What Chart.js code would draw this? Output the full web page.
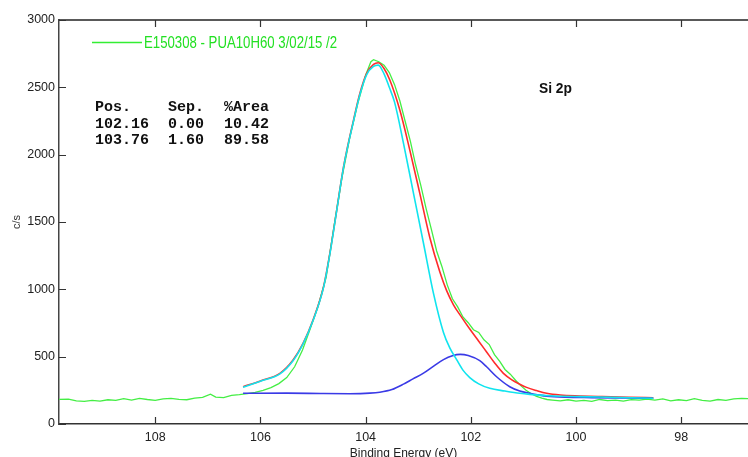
<!DOCTYPE html>
<html>
<head>
<meta charset="utf-8">
<script src="https://cdn.jsdelivr.net/npm/chart.js@4/dist/chart.umd.min.js"></script>
<style>
  html, body { margin: 0; padding: 0; background: #fff; }
  #wrap { width: 748px; height: 457px; }
</style>
</head>
<body>
<div id="wrap"><canvas id="xps" width="748" height="457"></canvas></div>
<script>
// ----- axis ticks -----
const beTicks = [108, 106, 104, 102, 100, 98];
const cpsTicks = [0, 500, 1000, 1500, 2000, 2500, 3000];

// ----- measured spectrum (green) -----
const rawBE = [109.83, 109.65, 109.50, 109.35, 109.20, 109.05, 108.90, 108.75, 108.60, 108.45,
  108.30, 108.15, 108.00, 107.85, 107.70, 107.55, 107.40, 107.25, 107.10, 106.95,
  106.85, 106.70, 106.55, 106.40, 106.25, 106.10, 105.95, 105.80, 105.65, 105.50,
  105.35, 105.20, 105.05, 104.90, 104.75, 104.60, 104.45, 104.30, 104.15, 104.00,
  103.90, 103.85, 103.75, 103.65, 103.55, 103.45, 103.35, 103.25, 103.15, 103.05,
  102.95, 102.85, 102.75, 102.65, 102.55, 102.45, 102.35, 102.25, 102.15, 102.05,
  101.95, 101.85, 101.75, 101.65, 101.55, 101.45, 101.35, 101.25, 101.15, 101.05,
  100.95, 100.85, 100.75, 100.65, 100.55, 100.45, 100.30, 100.15, 100.00, 99.85,
  99.70, 99.55, 99.40, 99.25, 99.10, 98.95, 98.80, 98.65, 98.50, 98.35,
  98.20, 98.05, 97.90, 97.75, 97.60, 97.45, 97.30, 97.15, 97.00, 96.85, 96.73];
const rawCps = [183, 184, 172, 168, 175, 170, 180, 176, 188, 178,
  190, 182, 176, 186, 190, 183, 180, 192, 198, 222,
  200, 196, 212, 218, 226, 235, 250, 270, 300, 345,
  425, 550, 710, 880, 1090, 1470, 1830, 2130, 2380, 2590,
  2690, 2705, 2690, 2665, 2610, 2520, 2400, 2250, 2100, 1925,
  1770, 1600, 1445, 1285, 1170, 1035, 930, 870, 795, 752,
  700, 680, 625, 590, 515, 465, 405, 370, 325, 285,
  250, 225, 205, 192, 182, 178, 172, 180, 170, 176,
  168, 182, 174, 178, 170, 181, 177, 184, 178, 186,
  172, 180, 174, 188, 176, 170, 182, 175, 186, 190, 188];

// ----- envelope (red) -----
const envBE = [106.33, 106.00, 105.63, 105.38, 105.19, 105.00, 104.80, 104.68, 104.55, 104.42,
  104.23, 104.11, 103.98, 103.85, 103.76, 103.65, 103.54, 103.35, 103.16, 102.97,
  102.78, 102.59, 102.46, 102.33, 102.17, 102.02, 101.85, 101.70, 101.55, 101.38,
  101.22, 101.07, 100.94, 100.75, 100.56, 100.30, 99.92, 99.50, 99.00, 98.53];
const envCps = [277, 320, 376, 475, 599, 772, 1019, 1267, 1589, 1910,
  2257, 2455, 2604, 2670, 2683, 2640, 2554, 2331, 2034, 1713,
  1385, 1130, 990, 885, 790, 705, 615, 535, 455, 376,
  328, 296, 272, 248, 228, 215, 208, 203, 198, 195];

// ----- component at 103.76 eV (cyan) -----
const mainBE = [106.33, 106.00, 105.63, 105.38, 105.19, 105.00, 104.80, 104.68, 104.55, 104.42,
  104.23, 104.11, 103.98, 103.85, 103.76, 103.65, 103.55, 103.45, 103.28, 103.09,
  102.90, 102.71, 102.52, 102.40, 102.27, 102.15, 102.02, 101.85, 101.64, 101.35,
  101.07, 100.88, 100.50, 99.92, 99.30, 98.53];
const mainCps = [272, 318, 372, 470, 595, 768, 1015, 1262, 1585, 1905,
  2250, 2445, 2595, 2655, 2665, 2600, 2500, 2390, 2084, 1713,
  1342, 970, 680, 565, 478, 400, 345, 298, 265, 245,
  228, 220, 210, 203, 198, 191];

// ----- component at 102.16 eV (blue) -----
const subBE = [106.33, 105.50, 104.80, 104.30, 103.92, 103.73, 103.50, 103.28, 103.10, 102.90,
  102.70, 102.52, 102.35, 102.20, 102.05, 101.83, 101.70, 101.51, 101.26, 101.07,
  100.88, 100.70, 100.56, 100.20, 99.70, 99.00, 98.53];
const subCps = [228, 229, 226, 225, 229, 236, 256, 296, 335, 378,
  432, 478, 507, 517, 508, 470, 425, 351, 277, 245,
  228, 215, 207, 199, 196, 193, 191];

const legendLabel = 'E150308 - PUA10H60 3/02/15 /2';
const tableRows = [
  ['Pos.', 'Sep.', '%Area'],
  ['102.16', '0.00', '10.42'],
  ['103.76', '1.60', '89.58']
];
const peakLabel = 'Si 2p';

const pts = (xs, ys) => xs.map((x, i) => ({ x: x, y: ys[i] }));
const sans = 'Arial, "Liberation Sans", sans-serif';

// texte compressé horizontalement (comme l'original)
function squeezeText(ctx, txt, x, y, sx) {
  ctx.save();
  ctx.translate(x, y);
  ctx.scale(sx, 1);
  ctx.fillText(txt, 0, 0);
  ctx.restore();
}

const decorPlugin = {
  id: 'decor',
  afterDraw(chart) {
    const ctx = chart.ctx;
    const a = chart.chartArea;
    const xs = chart.scales.x, ys = chart.scales.y;
    ctx.save();
    // cadre du haut
    ctx.strokeStyle = '#222';
    ctx.lineWidth = 1.5;
    ctx.beginPath();
    ctx.moveTo(a.left, a.top);
    ctx.lineTo(a.right, a.top);
    ctx.stroke();
    // graduations vers l'intérieur
    ctx.lineWidth = 1.2;
    ctx.strokeStyle = '#333';
    ctx.beginPath();
    beTicks.forEach(v => {
      const px = Math.round(xs.getPixelForValue(v)) + 0.5;
      ctx.moveTo(px, a.bottom); ctx.lineTo(px, a.bottom - 7);
      ctx.moveTo(px, a.top); ctx.lineTo(px, a.top + 7);
    });
    cpsTicks.forEach(v => {
      const py = Math.round(ys.getPixelForValue(v)) + 0.5;
      ctx.moveTo(a.left, py); ctx.lineTo(a.left + 7, py);
    });
    ctx.stroke();

    // légende
    ctx.strokeStyle = '#33ee33';
    ctx.lineWidth = 1.5;
    ctx.beginPath();
    ctx.moveTo(92, 42.5); ctx.lineTo(142, 42.5);
    ctx.stroke();
    ctx.fillStyle = '#22e022';
    ctx.font = '16.5px ' + sans;
    ctx.textBaseline = 'alphabetic';
    squeezeText(ctx, legendLabel, 144, 48, 0.8);

    // tableau des pics
    ctx.fillStyle = '#111';
    ctx.font = 'bold 15px "Liberation Mono", "Courier New", monospace';
    const colX = [95, 168, 224];
    const rowY = [110.5, 128, 144];
    tableRows.forEach((row, r) => {
      row.forEach((cell, c) => ctx.fillText(cell, colX[c], rowY[r]));
    });

    // étiquette Si 2p
    ctx.font = 'bold 15px ' + sans;
    squeezeText(ctx, peakLabel, 539, 93, 0.92);
    ctx.restore();
  }
};

new Chart(document.getElementById('xps'), {
  type: 'line',
  data: {
    datasets: [
      { label: 'cyan', data: pts(mainBE, mainCps), borderColor: '#10e4ee', borderWidth: 1.6, cubicInterpolationMode: 'monotone', order: 1 },
      { label: 'blue', data: pts(subBE, subCps), borderColor: '#3a3ae6', borderWidth: 1.6, cubicInterpolationMode: 'monotone', order: 2 },
      { label: 'red', data: pts(envBE, envCps), borderColor: '#ff2b2b', borderWidth: 1.6, cubicInterpolationMode: 'monotone', order: 3 },
      { label: legendLabel, data: pts(rawBE, rawCps), borderColor: '#44ee44', borderWidth: 1.3, tension: 0, order: 4 }
    ]
  },
  options: {
    responsive: false,
    animation: false,
    devicePixelRatio: 1,
    parsing: false,
    layout: { padding: { top: 20, right: 0, bottom: 0, left: 0 } },
    elements: { point: { radius: 0 }, line: { fill: false } },
    plugins: { legend: { display: false }, tooltip: { enabled: false } },
    scales: {
      x: {
        type: 'linear',
        reverse: true,
        min: 96.73,
        max: 109.83,
        afterBuildTicks: s => { s.ticks = beTicks.map(v => ({ value: v })); },
        afterFit: s => { s.height = 33; },
        grid: { drawOnChartArea: false, drawTicks: false },
        border: { display: true, color: '#333', width: 1.5 },
        ticks: { autoSkip: false, maxRotation: 0, padding: 6, color: '#222', font: { family: sans, size: 12.5 }, callback: v => String(v) },
        title: { display: true, text: 'Binding Energy (eV)', color: '#222', font: { family: sans, size: 12 }, padding: { top: 0, bottom: -4 } }
      },
      y: {
        min: 0,
        max: 3000,
        afterBuildTicks: s => { s.ticks = cpsTicks.map(v => ({ value: v })); },
        afterFit: s => { s.width = 59; },
        grid: { drawOnChartArea: false, drawTicks: false },
        border: { display: true, color: '#444', width: 1.5 },
        ticks: { padding: 4, color: '#222', font: { family: sans, size: 12.5 }, callback: v => String(v) },
        title: { display: true, text: 'c/s', color: '#333', font: { family: sans, size: 11 }, padding: { top: 10, bottom: 0 } }
      }
    }
  },
  plugins: [decorPlugin]
});
</script>
</body>
</html>
